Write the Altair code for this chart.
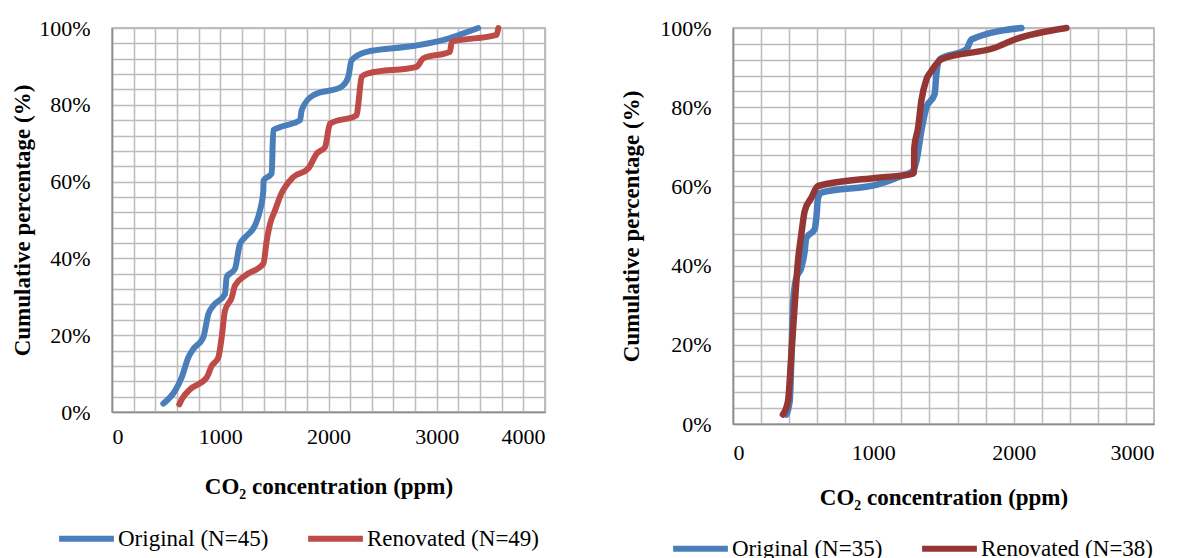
import altair as alt
import pandas as pd

FONT = "Liberation Serif"

# ---- Left panel data (CO2 ppm, cumulative %) ----
left_series = ["Original (N=45)", "Renovated (N=49)"]
left_orig_x = [474, 582, 644, 705, 751, 843, 890, 936, 1044, 1059, 1136, 1182, 1229, 1321, 1367,
               1398, 1400, 1475, 1490, 1555, 1737, 1752, 1859, 2120, 2183, 2213, 2352, 2780, 3090,
               3275, 3383]
left_orig_y = [2.2, 5.5, 9.0, 14.2, 16.4, 19.4, 25.5, 27.7, 30.7, 35.1, 37.3, 43.8, 45.5, 48.6, 52.5,
               57.7, 60.3, 62.1, 73.4, 74.2, 76.0, 78.6, 82.5, 84.7, 87.3, 91.6, 93.8, 95.3, 97.1,
               98.9, 100.0]
left_reno_x = [622, 644, 721, 875, 921, 982, 1013, 1044, 1106, 1136, 1229, 1398, 1429, 1460, 1506,
               1560, 1675, 1813, 1891, 1968, 2014, 2260, 2276, 2306, 2368, 2814, 2876, 3122, 3138,
               3553, 3569]
left_reno_y = [2.0, 3.3, 5.9, 9.0, 12.0, 14.2, 19.4, 26.4, 29.8, 32.9, 35.5, 38.6, 44.6, 49.0, 52.5,
               56.6, 61.2, 63.4, 67.3, 69.0, 75.1, 77.3, 80.3, 87.3, 88.2, 89.9, 92.1, 93.8, 96.4,
               98.2, 100.0]

# ---- Right panel data ----
right_series = ["Original (N=35)", "Renovated (N=38)"]
right_orig_x = [380, 404, 416, 428, 451, 487, 511, 522, 582, 594, 606, 629, 1033, 1200, 1283, 1307,
                1342, 1378, 1437, 1449, 1473, 1663, 1699, 2055]
right_orig_y = [2.4, 5.8, 16.7, 30.2, 36.9, 39.5, 43.7, 47.0, 49.2, 52.1, 57.1, 58.4, 60.5, 62.6,
                63.9, 66.4, 74.0, 79.9, 83.3, 88.3, 92.1, 94.6, 97.1, 100.0]
right_reno_x = [356, 392, 416, 440, 463, 487, 511, 558, 606, 1033, 1271, 1290, 1292, 1319, 1342,
                1378, 1413, 1485, 1865, 2008, 2376]
right_reno_y = [2.4, 5.8, 17.6, 30.2, 41.2, 47.9, 53.8, 57.1, 60.1, 62.2, 63.1, 63.5, 69.8, 74.8,
                81.6, 87.0, 89.1, 92.1, 95.0, 97.1, 100.0]

x_ticks_left = list(range(0, 4001, 200))
x_ticks_right = list(range(0, 3001, 200))
y_ticks = list(range(0, 101, 4))


def frame(series, xs1, ys1, xs2, ys2):
    rows = []
    for i, (x, y) in enumerate(zip(xs1, ys1)):
        rows.append({"series": series[0], "ppm": x, "pct": y, "idx": i})
    for i, (x, y) in enumerate(zip(xs2, ys2)):
        rows.append({"series": series[1], "ppm": x, "pct": y, "idx": i})
    return pd.DataFrame(rows)


def panel(df, series, colors, xmax, xticks, w, h, lw, legx, legy, tpad, lpad, ytpad):
    return alt.Chart(df).mark_line(strokeWidth=lw, interpolate="monotone", strokeCap="round",
                                   strokeJoin="round").encode(
        x=alt.X("ppm:Q", scale=alt.Scale(domain=[0, xmax], nice=False),
                axis=alt.Axis(values=xticks, format="d",
                              labelExpr="datum.value % 1000 == 0 ? datum.label : ''",
                              title="CO\u2082 concentration (ppm)", titlePadding=tpad,
                              labelPadding=lpad)),
        y=alt.Y("pct:Q", scale=alt.Scale(domain=[0, 100], nice=False),
                axis=alt.Axis(values=y_ticks,
                              labelExpr="datum.value % 20 == 0 ? datum.value + '%' : ''",
                              title="Cumulative percentage (%)", titlePadding=ytpad,
                              labelPadding=22)),
        color=alt.Color("series:N", scale=alt.Scale(domain=series, range=colors),
                        legend=alt.Legend(title=None, orient="none", direction="horizontal",
                                          legendX=legx, legendY=legy)),
        order="idx:Q",
    ).properties(width=w, height=h)


left = panel(frame(left_series, left_orig_x, left_orig_y, left_reno_x, left_reno_y),
             left_series, ["#4A7EBB", "#BE4B48"], 4000, x_ticks_left, 433, 384, 6,
             -56, 480, 28, 14, 4)
right = panel(frame(right_series, right_orig_x, right_orig_y, right_reno_x, right_reno_y),
              right_series, ["#4A7EBB", "#943634"], 3000, x_ticks_right, 421, 396, 6.5,
              -63, 490, 23, 18, 16)

chart = alt.hconcat(left, right, spacing=73).resolve_scale(color="independent").properties(
    padding={"left": 10, "top": 16, "right": 0, "bottom": 0}
).configure_view(stroke="#a6a6a6", strokeWidth=1.5).configure_axis(
    labelFont=FONT, titleFont=FONT, labelFontSize=22, titleFontSize=23, titleFontWeight="bold",
    labelColor="#000000", titleColor="#000000", ticks=False, grid=True, gridColor="#bcbcbc",
    gridWidth=1.5, domainColor="#8c8c8c", domainWidth=1.5, labelAngle=0,
).configure_legend(
    labelFont=FONT, labelFontSize=23, labelColor="#000000", symbolType="stroke",
    symbolSize=3000, symbolStrokeWidth=6, labelOffset=1, columnPadding=27, padding=0,
    labelLimit=400,
)

chart.save("out.html", embed_options={"renderer": "svg", "actions": False})
